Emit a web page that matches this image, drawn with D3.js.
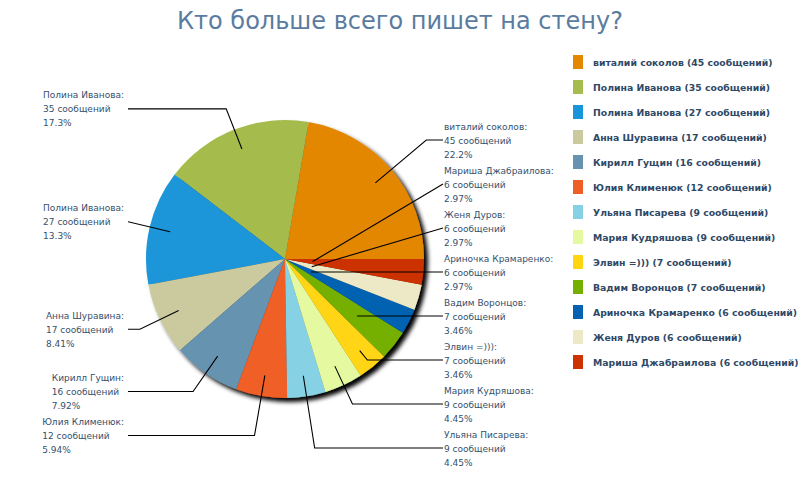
<!DOCTYPE html>
<html>
<head>
<meta charset="utf-8">
<script src="https://cdn.jsdelivr.net/npm/d3@7"></script>
<style>
  body { margin: 0; background: #fff; }
  .lbl { font-family: "DejaVu Sans", sans-serif; font-size: 9px; fill: #35506c; }
  .leg { font-family: "DejaVu Sans", sans-serif; font-size: 9.3px; font-weight: bold; fill: #2e4866; }
  .title { font-family: "DejaVu Sans", sans-serif; font-size: 24px; fill: #5a7ca0; }
</style>
</head>
<body>
<script>
// data, in pie order (counterclockwise from 3 o'clock)
var names = ["виталий соколов", "Полина Иванова", "Полина Иванова", "Анна Шуравина",
             "Кирилл Гущин", "Юлия Клименюк", "Ульяна Писарева", "Мария Кудряшова",
             "Элвин =)))", "Вадим Воронцов", "Ариночка Крамаренко", "Женя Дуров",
             "Мариша Джабраилова"];
var counts = [45, 35, 27, 17, 16, 12, 9, 9, 7, 7, 6, 6, 6];
var colors = ["#e48701", "#a5bc4e", "#1b95d9", "#caca9e", "#6693b0", "#f05e27",
              "#86d1e4", "#e4f9a0", "#ffd512", "#75b000", "#0662b0", "#ede8c6", "#cc3300"];
var titleText = "Кто больше всего пишет на стену?";
var unit = "сообщений";

var W = 800, H = 500;
var cx = 285, cy = 259, r = 139;

var total = d3.sum(counts);
// percent cut (not rounded) to 3 digits, like the original
function pct(v) {
  var p = v / total * 100, k = p >= 10 ? 10 : 100;
  return (Math.floor(p * k + 1e-9) / k).toFixed(k == 10 ? 1 : 2) + "%";
}

var data = names.map((n, i) => ({name: n, value: counts[i], color: colors[i]}));

var svg = d3.select("body").append("svg")
            .attr("width", W)
            .attr("height", H);

var defs = svg.append("defs");
var f = defs.append("filter").attr("id", "shadow")
            .attr("x", "-20%").attr("y", "-20%").attr("width", "140%").attr("height", "140%");
f.append("feDropShadow")
 .attr("dx", 4).attr("dy", 4)
 .attr("stdDeviation", 2)
 .attr("flood-color", "#000")
 .attr("flood-opacity", 1);

svg.append("text")
   .attr("class", "title")
   .attr("x", 400)
   .attr("y", 29)
   .attr("text-anchor", "middle")
   .text(titleText);

// pie: start at east, going counterclockwise
var pie = d3.pie()
            .sort(null)
            .value(d => d.value)
            .startAngle(Math.PI / 2)
            .endAngle(Math.PI / 2 - 2 * Math.PI);

var arc = d3.arc().innerRadius(0).outerRadius(r);
var arcs = pie(data);

var g = svg.append("g")
           .attr("transform", "translate(" + cx + "," + cy + ")");

g.append("g")
 .attr("filter", "url(#shadow)")
 .selectAll("path")
 .data(arcs)
 .enter()
 .append("path")
 .attr("d", arc)
 .attr("fill", d => d.data.color);

// label layout
var anchorR = 0.85 * r, minR = 0.2 * r, idealR = 1.16 * r;
var spacing = 44, maxY = 448, minY = 60;

arcs.forEach(d => {
  var a = (d.startAngle + d.endAngle) / 2;
  d.ux = Math.sin(a);
  d.uy = -Math.cos(a);
  d.side = d.ux >= 0 ? "right" : "left";
  d.ly = cy + d.uy * idealR;
});

["left", "right"].forEach(side => {
  var list = arcs.filter(d => d.side === side).sort((a, b) => a.ly - b.ly);
  for (var i = 1; i < list.length; i++)
    list[i].ly = Math.max(list[i].ly, list[i - 1].ly + spacing);
  if (list.length) list[list.length - 1].ly = Math.min(list[list.length - 1].ly, maxY);
  for (var i = list.length - 2; i >= 0; i--)
    list[i].ly = Math.min(list[i].ly, list[i + 1].ly - spacing);
  list.forEach(d => d.ly = Math.max(d.ly, minY));
});

var rightX = 444, leftEdge = 124;

var labels = svg.append("g");

arcs.forEach(d => {
  var lg = labels.append("g");
  var lines = [d.data.name + ":", d.data.value + " " + unit, pct(d.data.value)];
  var t = lg.selectAll("text")
            .data(lines)
            .enter()
            .append("text")
            .attr("class", "lbl")
            .attr("y", (s, i) => d.ly + (i - 1) * 14 + 3.5)
            .text(s => s);

  var endX;
  if (d.side === "right") {
    t.attr("x", rightX);
    endX = rightX - 1;
  } else {
    var w = d3.max(t.nodes(), n => n.getComputedTextLength());
    t.attr("x", leftEdge - w);
    endX = leftEdge + 4;
  }

  // leader line
  var pts;
  var tt = (d.ly - cy) / d.uy;
  if (tt >= anchorR) {
    pts = [[cx + d.ux * anchorR, cy + d.uy * anchorR],
           [cx + d.ux * tt, d.ly],
           [endX, d.ly]];
  } else if (tt >= minR) {
    pts = [[cx + d.ux * tt, d.ly], [endX, d.ly]];
  } else {
    pts = [[cx + d.ux * minR, cy + d.uy * minR], [endX, d.ly]];
  }
  lg.append("path")
    .attr("d", d3.line()(pts))
    .attr("fill", "none")
    .attr("stroke", "#000")
    .attr("stroke-width", 1.1);
});

// legend
var legend = svg.append("g")
                .attr("transform", "translate(573,62)");

var item = legend.selectAll("g")
                 .data(data)
                 .enter()
                 .append("g")
                 .attr("transform", (d, i) => "translate(0," + i * 25 + ")");

item.append("rect")
    .attr("x", 0)
    .attr("y", -7)
    .attr("width", 10)
    .attr("height", 14)
    .attr("fill", d => d.color);

item.append("text")
    .attr("class", "leg")
    .attr("x", 20)
    .attr("y", 3.5)
    .text(d => d.name + " (" + d.value + " " + unit + ")");
</script>
</body>
</html>
